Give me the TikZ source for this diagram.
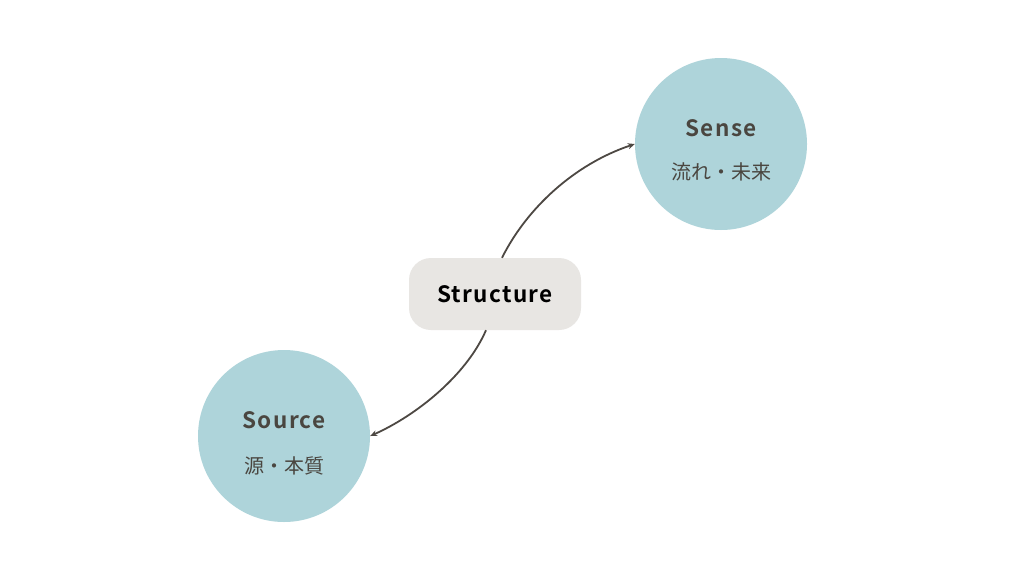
\documentclass[tikz,border=0pt]{standalone}
\usepackage{fontspec}
\setmainfont{Noto Sans CJK JP}[BoldFont={Noto Sans CJK JP Bold}]
\usetikzlibrary{arrows.meta}
\definecolor{circfill}{HTML}{AED4DA}
\definecolor{boxfill}{HTML}{E8E6E3}
\definecolor{linecol}{HTML}{4D4843}
\definecolor{txtcol}{HTML}{4A4640}
\begin{document}
\begin{tikzpicture}[x=1pt,y=-1pt,
  bubble/.style={circle,fill=circfill,minimum size=172pt,inner sep=0pt},
  title/.style={font=\fontsize{22.5}{26}\selectfont\bfseries\addfontfeatures{LetterSpace=6},text=txtcol},
  sub/.style={font=\fontsize{20}{24}\selectfont,text=txtcol},
  centerbox/.style={rounded corners=22pt,fill=boxfill,minimum width=172pt,minimum height=72pt,inner sep=0pt,
    font=\fontsize{22.5}{26}\selectfont\bfseries\addfontfeatures{LetterSpace=6},text=black},
  conn/.style={linecol,line width=1.8pt,-{Stealth[length=7pt,width=6pt]}}]
\useasboundingbox[fill=white] (0,0) rectangle (1024,576);
\node[bubble] (sense) at (721,144) {};
\node[title] (senset) at (721,128) {Sense};
\node[sub] (senses) at (721,172) {流れ・未来};
\node[bubble] (source) at (284,436) {};
\node[title] (sourcet) at (284,420) {Source};
\node[sub] (sources) at (284,466) {源・本質};
\node[centerbox] (st) at (495,294) {Structure};
\draw[conn] ([xshift=7pt]st.north) .. controls +(25,-50) and +(-60,20) .. (sense.west);
\draw[conn] ([xshift=-9pt]st.south) .. controls +(-20,46) and +(45,-20) .. (source.east);
\end{tikzpicture}
\end{document}
